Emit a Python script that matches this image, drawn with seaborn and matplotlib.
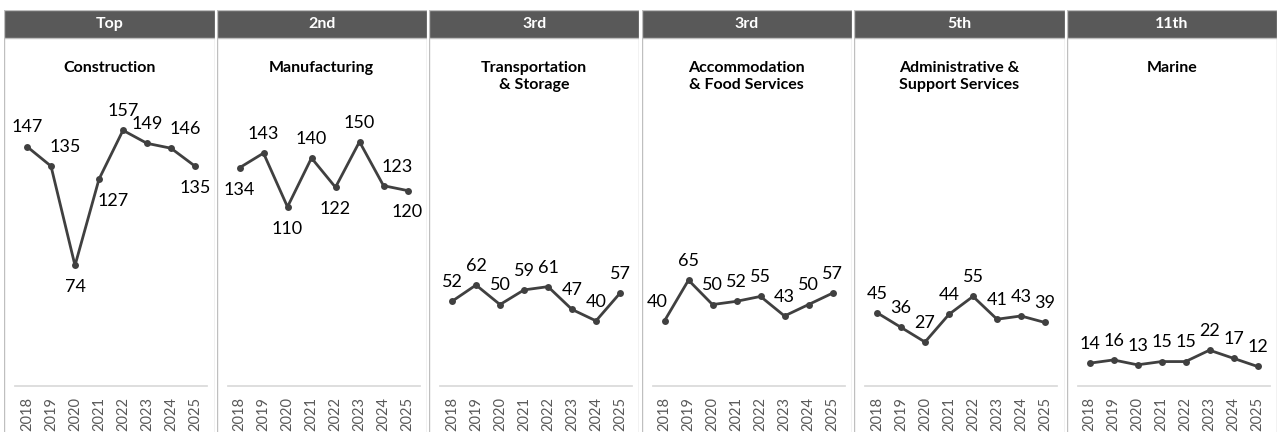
import numpy as np
import pandas as pd
import seaborn as sns
import matplotlib.pyplot as plt
from matplotlib.patches import Rectangle
from matplotlib.ticker import FixedLocator

sns.set_theme(style="white")
plt.rcParams["font.family"] = ["Lato", "DejaVu Sans"]

years = [2018, 2019, 2020, 2021, 2022, 2023, 2024, 2025]
ranks = ["Top", "2nd", "3rd", "3rd", "5th", "11th"]
industries = ["Construction", "Manufacturing", "Transportation\n& Storage",
              "Accommodation\n& Food Services", "Administrative &\nSupport Services", "Marine"]
construction = [147, 135, 74, 127, 157, 149, 146, 135]
manufacturing = [134, 143, 110, 140, 122, 150, 123, 120]
transport = [52, 62, 50, 59, 61, 47, 40, 57]
accommodation = [40, 65, 50, 52, 55, 43, 50, 57]
admin = [45, 36, 27, 44, 55, 41, 43, 39]
marine = [14, 16, 13, 15, 15, 22, 17, 12]
series = [construction, manufacturing, transport, accommodation, admin, marine]

# label placement per point: a=above, ar=above-right, b=below, br=below-right
placement = [
    ["a", "ar", "b", "br", "a", "a", "ar", "b"],
    ["b", "a", "b", "a", "b", "a", "ar", "b"],
    ["a"] * 8,
    ["al", "a", "a", "a", "a", "a", "a", "a"],
    ["a"] * 8,
    ["a"] * 8,
]
offsets = {"a": (0, 8), "ar": (10, 8), "al": (-5, 8), "b": (0, -10), "br": (10, -10)}

W, H = 1283, 432
fig = plt.figure(figsize=(W / 100, H / 100), dpi=100)

line_col = "#404040"
head_col = "#595959"
border = "#bfbfbf"

pw = 1275 / 6
for i in range(6):
    left = 4 + i * pw
    # panel background/frame
    bg = fig.add_axes([left / W, 0, (pw - 2) / W, (H - 10) / H])
    bg.set_xlim(0, 1)
    bg.set_ylim(0, 1)
    bg.axis("off")
    hh = 28 / (H - 10)
    bg.add_patch(Rectangle((0, 1 - hh), 1, hh, facecolor=head_col, edgecolor=border, lw=1))
    bg.plot([0, 0], [0, 1 - hh], color=border, lw=1)
    bg.plot([1, 1], [0, 1 - hh], color=border, lw=1)
    bg.text(0.5, 1 - hh / 2, ranks[i], ha="center", va="center", color="white",
            fontsize=11.5, fontweight="bold")
    bg.text(0.5, 1 - 51 / (H - 10), industries[i], ha="center", va="top", color="black",
            fontsize=11.5, fontweight="bold", linespacing=1.25)

    ax = fig.add_axes([(left + 11) / W, (H - 386) / H, 192 / W, 285 / H])
    df = pd.DataFrame({"year": years, "value": series[i]})
    sns.lineplot(data=df, x="year", y="value", ax=ax, color=line_col, lw=2,
                 marker="o", markersize=5, markeredgewidth=0)
    ax.set_xlim(2017.5, 2025.5)
    ax.set_ylim(0, 175)
    ax.patch.set_alpha(0)
    for s in ["top", "left", "right"]:
        ax.spines[s].set_visible(False)
    ax.spines["bottom"].set_color("#d9d9d9")
    ax.set_yticks([])
    ax.set_xticks(years)
    ax.set_xticklabels([str(y) for y in years], rotation=90, fontsize=10.5, color=head_col)
    ax.xaxis.set_minor_locator(FixedLocator(np.arange(2017.5, 2026, 1)))
    ax.tick_params(axis="x", which="major", length=0, pad=8)
    ax.tick_params(axis="x", which="minor", length=5, color="#d9d9d9", width=1, direction="out")
    ax.set_xlabel("")
    ax.set_ylabel("")
    for y, v, p in zip(years, series[i], placement[i]):
        dx, dy = offsets[p]
        ax.annotate(str(v), (y, v), xytext=(dx, dy), textcoords="offset points",
                    ha="center", va="bottom" if dy > 0 else "top", fontsize=13, color="black")

fig.savefig("out.png", dpi=100)
